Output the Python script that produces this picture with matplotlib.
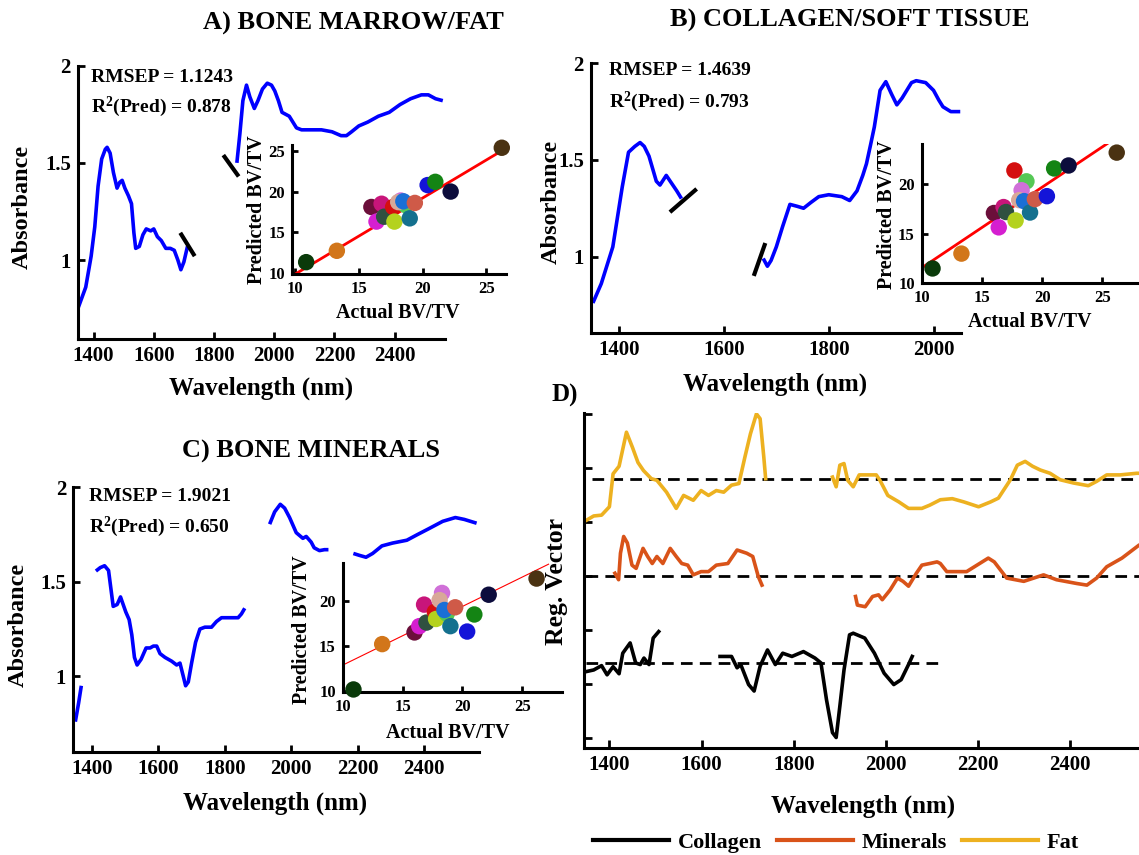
import matplotlib.pyplot as plt
from matplotlib.lines import Line2D

W, H = 1139, 855

plt.rcParams['font.family'] = ['Liberation Serif', 'DejaVu Serif']
plt.rcParams['font.weight'] = 'bold'
plt.rcParams['mathtext.fontset'] = 'custom'
plt.rcParams['mathtext.rm'] = 'Liberation Serif:bold'
plt.rcParams['mathtext.it'] = 'Liberation Serif:bold'
plt.rcParams['mathtext.bf'] = 'Liberation Serif:bold'

# ---- spectra (absorbance), panel A
a_wl1 = [1348, 1374, 1392, 1404, 1415, 1427, 1439, 1445, 1455, 1466, 1478, 1487, 1495, 1504, 1516,
         1526, 1534, 1540, 1552, 1564, 1575, 1590, 1600, 1612, 1625, 1640, 1655, 1668, 1680, 1690,
         1700, 1712]
a_ab1 = [0.75, 0.86, 1.02, 1.17, 1.38, 1.52, 1.57, 1.58, 1.55, 1.45, 1.37, 1.40, 1.41, 1.37, 1.33,
         1.29, 1.14, 1.06, 1.07, 1.13, 1.16, 1.15, 1.16, 1.12, 1.10, 1.06, 1.06, 1.05, 1.00, 0.95,
         0.99, 1.07]
a_wl2 = [1876, 1886, 1896, 1908, 1919, 1934, 1946, 1961, 1977, 1991, 2002, 2014, 2026, 2038, 2050,
         2062, 2074, 2091, 2121, 2157, 2192, 2222, 2240, 2257, 2281, 2311, 2346, 2382, 2418, 2453,
         2489, 2512, 2536, 2560]
a_ab2 = [1.50, 1.65, 1.82, 1.90, 1.84, 1.78, 1.82, 1.88, 1.91, 1.90, 1.87, 1.82, 1.76, 1.75, 1.74,
         1.71, 1.68, 1.67, 1.67, 1.67, 1.66, 1.64, 1.64, 1.66, 1.69, 1.71, 1.74, 1.76, 1.80, 1.83,
         1.85, 1.85, 1.83, 1.82]
a_breaks = [([1688, 1736], [1.14, 1.02]), ([1831, 1882], [1.54, 1.43])]

# panel B
b_wl1 = [1350, 1366, 1388, 1406, 1418, 1430, 1440, 1448, 1457, 1471, 1478, 1490, 1500, 1510, 1519]
b_ab1 = [0.76, 0.86, 1.05, 1.36, 1.54, 1.57, 1.59, 1.57, 1.52, 1.39, 1.37, 1.42, 1.38, 1.34, 1.30]
b_wl2 = [1675, 1683, 1690, 1700, 1712, 1726, 1740, 1752, 1766, 1781, 1800, 1825, 1840, 1854, 1865,
         1872, 1880, 1887, 1898, 1909, 1920, 1930, 1940, 1949, 1958, 1967, 1985, 2000, 2010, 2018,
         2033, 2051]
b_ab2 = [0.99, 0.95, 0.98, 1.05, 1.155, 1.27, 1.26, 1.25, 1.28, 1.31, 1.32, 1.31, 1.29, 1.34, 1.42,
         1.48, 1.58, 1.67, 1.86, 1.905, 1.84, 1.785, 1.82, 1.86, 1.90, 1.91, 1.90, 1.86, 1.81, 1.775,
         1.75, 1.75]
b_breaks = [([1497, 1548], [1.23, 1.35]), ([1657, 1679], [0.90, 1.07])]

# panel C
c_wl1 = [1350, 1360, 1368]
c_ab1 = [0.76, 0.86, 0.95]
c_wl2 = [1412, 1425, 1438, 1450, 1464, 1476, 1486, 1494, 1502, 1512, 1520, 1528, 1536, 1548, 1563,
         1575, 1585, 1595, 1605, 1620, 1640, 1655, 1665, 1675, 1682, 1690, 1700, 1712, 1725, 1740,
         1760, 1775, 1790, 1805, 1820, 1840, 1850, 1860]
c_ab2 = [1.557, 1.575, 1.585, 1.56, 1.37, 1.38, 1.42, 1.38, 1.34, 1.30, 1.22, 1.10, 1.06, 1.09, 1.15,
         1.15, 1.16, 1.16, 1.12, 1.10, 1.08, 1.06, 1.07, 1.00, 0.95, 0.97, 1.07, 1.18, 1.25, 1.26,
         1.26, 1.29, 1.31, 1.31, 1.31, 1.31, 1.33, 1.36]
c_wl3 = [1935, 1950, 1967, 1980, 1995, 2015, 2035, 2045, 2060, 2069, 2085, 2100, 2112]
c_ab3 = [1.805, 1.87, 1.91, 1.89, 1.84, 1.76, 1.73, 1.74, 1.71, 1.68, 1.665, 1.67, 1.67]
c_wl4 = [2187, 2205, 2225, 2245, 2273, 2305, 2348, 2380, 2413, 2456, 2494, 2521, 2558]
c_ab4 = [1.65, 1.64, 1.63, 1.65, 1.69, 1.705, 1.72, 1.75, 1.78, 1.82, 1.84, 1.83, 1.81]

# ---- predicted vs actual BV/TV (same samples in every inset)
sample_colors = ['#0a3a0a', '#d2761a', '#6b0f3a', '#d51fd0', '#c8157a', '#2f5040', '#d40f0f',
                 '#b4d21e', '#55c855', '#d070d8', '#d8a898', '#1a6fd6', '#14708e', '#cf5a48',
                 '#1414d8', '#148414', '#0c0c3c', '#4a3212']
actual = [10.9, 13.3, 16.0, 16.4, 16.8, 17.0, 17.7, 17.8, 18.7, 18.3, 18.1, 18.5, 19.0, 19.4,
          20.4, 21.0, 22.2, 26.2]
pred_a = [11.3, 12.7, 18.1, 16.3, 18.5, 16.9, 18.1, 16.3, 18.3, 18.9, 18.7, 18.8, 16.7, 18.6,
          20.8, 21.2, 20.0, 25.4]
pred_b = [11.5, 13.0, 17.1, 15.65, 17.7, 17.2, 21.4, 16.35, 20.3, 19.4, 18.4, 18.3, 17.15, 18.5,
          18.8, 21.6, 21.9, 23.2]
pred_c = [10.15, 15.2, 16.5, 17.2, 19.6, 17.6, 18.8, 18.0, 18.6, 20.9, 20.1, 19.0, 17.2, 19.3,
          16.6, 18.5, 20.7, 22.5]
fit_a = ([9.8, 26.06], [9.6, 24.9])
fit_b = ([10.05, 25.4], [11.6, 24.1])
fit_c = ([10.0, 27.2], [12.86, 24.1])
stats = {'A': ('1.1243', '0.878'), 'B': ('1.4639', '0.793'), 'C': ('1.9021', '0.650')}

# ---- panel D regression vectors (offset traces)
fat_wl1 = [1350, 1366, 1383, 1400, 1408, 1421, 1437, 1450, 1462, 1474, 1491, 1503, 1524, 1545,
           1561, 1582, 1599, 1615, 1632, 1648, 1665, 1681, 1694, 1706, 1719, 1727, 1735, 1739]
fat_v1 = [1.03, 1.11, 1.125, 1.28, 1.89, 2.03, 2.66, 2.38, 2.10, 1.95, 1.80, 1.77, 1.55, 1.25,
          1.49, 1.40, 1.58, 1.49, 1.58, 1.55, 1.68, 1.71, 2.20, 2.63, 3.00, 2.91, 2.20, 1.80]
fat_wl2 = [1884, 1892, 1900, 1909, 1917, 1929, 1942, 1962, 1979, 1987, 2004, 2028, 2049, 2078,
           2095, 2118, 2144, 2169, 2201, 2227, 2244, 2270, 2285, 2302, 2318, 2335, 2356, 2378,
           2407, 2439, 2457, 2479, 2508, 2544, 2552]
fat_v2 = [1.83, 1.65, 2.05, 2.08, 1.77, 1.65, 1.87, 1.87, 1.87, 1.77, 1.49, 1.37, 1.25, 1.25,
          1.31, 1.41, 1.43, 1.37, 1.28, 1.37, 1.44, 1.78, 2.05, 2.12, 2.03, 1.96, 1.90, 1.78,
          1.72, 1.67, 1.75, 1.87, 1.87, 1.90, 1.90]
min_wl1 = [1412, 1420, 1424, 1431, 1439, 1449, 1458, 1473, 1483, 1493, 1503, 1516, 1532, 1545,
           1557, 1570, 1582, 1599, 1615, 1632, 1657, 1677, 1698, 1711, 1723, 1731]
min_v1 = [0.05, -0.07, 0.42, 0.73, 0.61, 0.20, 0.14, 0.51, 0.36, 0.23, 0.36, 0.23, 0.51, 0.36,
          0.23, 0.20, 0.02, 0.08, 0.08, 0.20, 0.23, 0.48, 0.42, 0.36, -0.01, -0.17]
min_wl2 = [1934, 1938, 1955, 1971, 1984, 1992, 2009, 2025, 2037, 2049, 2066, 2078, 2095, 2111,
           2118, 2132, 2175, 2222, 2235, 2262, 2299, 2342, 2370, 2414, 2436, 2457, 2479, 2512,
           2549, 2552]
min_v2 = [-0.38, -0.54, -0.57, -0.38, -0.35, -0.44, -0.26, -0.04, -0.10, -0.19, 0.05, 0.20,
          0.23, 0.26, 0.23, 0.08, 0.08, 0.33, 0.26, -0.04, -0.10, 0.02, -0.07, -0.14, -0.17,
          -0.04, 0.17, 0.33, 0.57, 0.58]
col_wl1 = [1350, 1366, 1383, 1395, 1408, 1421, 1429, 1445, 1457, 1467, 1475, 1486, 1495, 1507]
col_v1 = [-1.77, -1.74, -1.66, -1.83, -1.68, -1.81, -1.43, -1.24, -1.61, -1.64, -1.52, -1.64,
          -1.15, -1.03]
col_wl2 = [1640, 1665, 1677, 1685, 1702, 1714, 1727, 1743, 1760, 1776, 1796, 1821, 1846, 1859,
           1871, 1884, 1892, 1900, 1909, 1921, 1929, 1954, 1975, 1996, 2017, 2033, 2049, 2057]
col_v2 = [-1.49, -1.49, -1.70, -1.64, -2.01, -2.13, -1.67, -1.37, -1.64, -1.43, -1.49, -1.40,
          -1.52, -1.61, -2.29, -2.90, -2.99, -2.41, -1.74, -1.09, -1.06, -1.15, -1.43, -1.80,
          -2.01, -1.92, -1.64, -1.49]
zero_levels = {'fat': (1.79, 1363, 2552), 'min': (0.0, 1350, 2552), 'col': (-1.62, 1350, 2125)}
c_col, c_min, c_fat = 'black', '#d95319', '#edb120'


fig = plt.figure(figsize=(W / 100, H / 100), dpi=100)


def px_axes(l, t, r, b, lab=15, tl=5):
    ax = fig.add_axes([l / W, 1 - b / H, (r - l) / W, (b - t) / H])
    ax.set_facecolor('none')
    ax.spines['top'].set_visible(False)
    ax.spines['right'].set_visible(False)
    ax.spines['left'].set_linewidth(2.2)
    ax.spines['bottom'].set_linewidth(2.2)
    ax.tick_params(direction='in', width=2, length=tl, labelsize=lab, pad=5)
    return ax


def ftext(x, y, s, size=17.5, rot=0, ha='center'):
    fig.text(x / W, 1 - y / H, s, ha=ha, va='center', fontsize=size, rotation=rot,
             fontweight='bold')


def spectrum_axes(box, xlim, ylim, xticks, segs, breaks):
    ax = px_axes(*box)
    for wl, ab in segs:
        ax.plot(wl, ab, color='#0000ff', lw=2.6, solid_capstyle='butt')
    for bx, by in breaks:
        ax.plot(bx, by, color='black', lw=3, solid_capstyle='butt')
    ax.set_xlim(*xlim)
    ax.set_ylim(*ylim)
    ax.set_xticks(xticks)
    ax.set_yticks([1, 1.5, 2])
    ax.set_yticklabels(['1', '1.5', '2'])
    return ax


def inset_axes(box, xlim, ylim, yticks, pred, fit, fit_lw):
    ax = px_axes(*box, lab=12, tl=4)
    ax.plot(fit[0], fit[1], color='red', lw=fit_lw)
    ax.scatter(actual, pred, s=140, c=sample_colors, edgecolors='none', zorder=3, clip_on=False)
    ax.set_xlim(*xlim)
    ax.set_ylim(*ylim)
    ax.set_xticks([10, 15, 20, 25])
    ax.set_yticks(yticks)
    return ax


# A
spectrum_axes((77.9, 65.7, 444.6, 339.3), (1348, 2566), (0.592, 2.0),
              [1400, 1600, 1800, 2000, 2200, 2400], [(a_wl1, a_ab1), (a_wl2, a_ab2)], a_breaks)
inset_axes((292.1, 145, 506.4, 274), (9.8, 26.56), (9.84, 25.74), [10, 15, 20, 25], pred_a,
           fit_a, 2)
ftext(353.6, 23.3, 'A) BONE MARROW/FAT', 19)
ftext(91, 77.3, 'RMSEP = ' + stats['A'][0], 14, ha='left')
ftext(91, 107.3, 'R$^{2}$(Pred) = ' + stats['A'][1], 14, ha='left')
ftext(22, 206.7, 'Absorbance', 17.5, 90)
ftext(260.7, 388.3, 'Wavelength (nm)', 18)
ftext(257, 210, 'Predicted BV/TV', 14.5, 90)
ftext(398, 313, 'Actual BV/TV', 14.5)

# B
spectrum_axes((590.8, 63.3, 961.3, 333.3), (1346, 2053), (0.603, 2.0),
              [1400, 1600, 1800, 2000], [(b_wl1, b_ab1), (b_wl2, b_ab2)], b_breaks)
inset_axes((921.7, 144, 1139, 283.3), (10, 28.05), (10, 24.07), [10, 15, 20], pred_b, fit_b, 2)
ftext(849.4, 20.7, 'B) COLLAGEN/SOFT TISSUE', 19)
ftext(608.8, 70.7, 'RMSEP = ' + stats['B'][0], 14, ha='left')
ftext(608.8, 101.7, 'R$^{2}$(Pred) = ' + stats['B'][1], 14, ha='left')
ftext(551.5, 201.7, 'Absorbance', 17.5, 90)
ftext(775, 384, 'Wavelength (nm)', 18)
ftext(886.7, 215, 'Predicted BV/TV', 14.5, 90)
ftext(1030, 321.7, 'Actual BV/TV', 14.5)

# C
spectrum_axes((73.0, 487.3, 478.6, 752.3), (1343, 2564), (0.598, 2.0),
              [1400, 1600, 1800, 2000, 2200, 2400],
              [(c_wl1, c_ab1), (c_wl2, c_ab2), (c_wl3, c_ab3), (c_wl4, c_ab4)], [])
inset_axes((342.7, 563.3, 561.7, 691.7), (10, 28.3), (9.9, 24.2), [10, 15, 20], pred_c,
           fit_c, 0.8)
ftext(310.7, 451.7, 'C) BONE MINERALS', 19)
ftext(88.6, 496, 'RMSEP = ' + stats['C'][0], 14, ha='left')
ftext(88.6, 526.7, 'R$^{2}$(Pred) = ' + stats['C'][1], 14, ha='left')
ftext(17.9, 625, 'Absorbance', 17.5, 90)
ftext(275, 803.3, 'Wavelength (nm)', 18)
ftext(301.8, 630, 'Predicted BV/TV', 14.5, 90)
ftext(448.2, 733.3, 'Actual BV/TV', 14.5)

# D
axd = px_axes(584.5, 413.3, 1139, 748.3, tl=6)
for key, (lev, x0, x1) in zero_levels.items():
    axd.plot([x0, x1], [lev, lev], color='black', lw=2, dashes=(4.2, 2.6))
for wl, v in [(col_wl1, col_v1), (col_wl2, col_v2)]:
    axd.plot(wl, v, color=c_col, lw=2.6)
for wl, v in [(min_wl1, min_v1), (min_wl2, min_v2)]:
    axd.plot(wl, v, color=c_min, lw=2.6)
for wl, v in [(fat_wl1, fat_v1), (fat_wl2, fat_v2)]:
    axd.plot(wl, v, color=c_fat, lw=2.6)
axd.set_xlim(1346, 2549)
axd.set_ylim(-3.19, 3.01)
axd.set_xticks([1400, 1600, 1800, 2000, 2200, 2400])
axd.set_yticks([-3, -2, -1, 0, 1, 2, 3])
axd.set_yticklabels([])
ftext(564.8, 395, 'D)', 18)
ftext(557, 581, 'Reg. Vector', 18.5, 90)
ftext(862.8, 806.7, 'Wavelength (nm)', 18)

handles = [Line2D([], [], color=c, lw=3) for c in (c_col, c_min, c_fat)]
fig.legend(handles, ['Collagen', 'Minerals', 'Fat'], loc='center',
           bbox_to_anchor=(836 / W, 1 - 843 / H), ncol=3, frameon=False, fontsize=16,
           handlelength=3.4, handletextpad=0.4, columnspacing=0.7)

fig.savefig('out.png', dpi=100)
